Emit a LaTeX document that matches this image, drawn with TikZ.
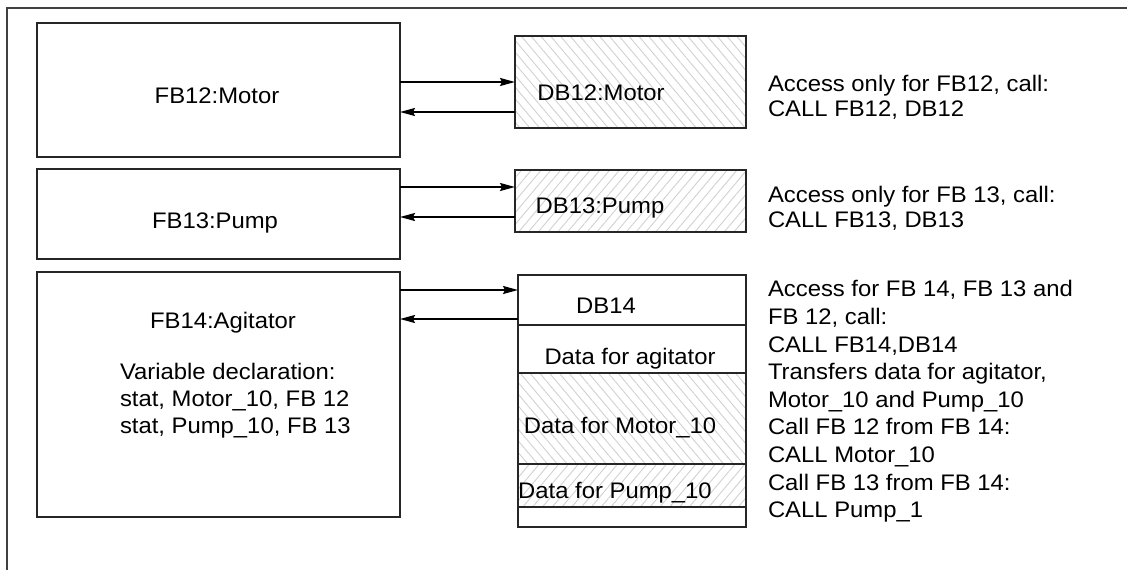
\documentclass[tikz,border=0pt]{standalone}
\usepackage{fontspec}
\setmainfont{Liberation Sans}[FakeStretch=1.06]
\usetikzlibrary{positioning,patterns.meta,arrows.meta}

\begin{document}
\begin{tikzpicture}[x=1pt, y=-1pt,
      every node/.style = {inner sep=0pt, outer sep=0pt,
        font=\fontsize{22.5}{27.6}\selectfont},
      box/.style = {draw=black!85, line width=1.3pt, rectangle},
      hatchL/.style = {box, pattern color=black!18,
        pattern={Lines[angle=-50, distance=7.5pt, line width=.9pt]}},
      hatchR/.style = {box, pattern color=black!18,
        pattern={Lines[angle=50, distance=7.5pt, line width=.9pt]}},
      call/.style = {-{Stealth[length=15pt, width=8pt, inset=2pt]}, line width=1.8pt},
      note/.style = {anchor=north west, align=left}]
    \useasboundingbox (0,0) rectangle (1127,570);
    \draw[draw=black!75, line width=1.5pt] (1127,8) -| (7,570);

    % function blocks
    \node[box, minimum width=363pt, minimum height=134pt] (fb12) at (218.5,90) {};
    \node[box, minimum width=363pt, minimum height=90pt] (fb13) at (218.5,214) {};
    \node[box, minimum width=363pt, minimum height=245pt] (fb14) at (218.5,394.5) {};
    \node[anchor=base] (fb12l) at (217,103) {FB12:Motor};
    \node[anchor=base] (fb13l) at (215,228) {FB13:Pump};
    \node[anchor=base] (fb14l) at (223,328) {FB14:Agitator};
    \node[note, font=\fontsize{22.5}{26.7}\selectfont] (vardecl) at (120,363.6)
      {Variable declaration:\\stat, Motor\_10, FB 12\\stat, Pump\_10, FB 13};

    % instance data blocks
    \node[hatchL, minimum width=231pt, minimum height=92pt] (db12) at (630.5,82) {};
    \node[hatchR, minimum width=231pt, minimum height=62pt] (db13) at (630.5,201) {};
    \node[box, minimum width=228pt, minimum height=50pt] (db14) at (632,300) {};
    \node[box, minimum width=228pt, minimum height=48pt, below=0pt of db14] (agi) {};
    \node[hatchL, minimum width=228pt, minimum height=91pt, below=0pt of agi] (mot) {};
    \node[hatchR, minimum width=228pt, minimum height=43pt, below=0pt of mot] (pmp) {};
    \node[box, minimum width=228pt, minimum height=20pt, below=0pt of pmp] (tail) {};
    \node[anchor=base] (db12l) at (601,100) {DB12:Motor};
    \node[anchor=base] (db13l) at (600,213) {DB13:Pump};
    \node[anchor=base] (db14l) at (606,313) {DB14};
    \node[anchor=base] (agil) at (630,364) {Data for agitator};
    \node[anchor=base] (motl) at (620,433) {Data for Motor\_10};
    \node[anchor=base] (pmpl) at (615,498) {Data for Pump\_10};

    % calls
    \coordinate (in12) at (db12.west);
    \coordinate (out12) at ([yshift=-30pt]db12.west);
    \coordinate (in13) at ([yshift=14pt]db13.west);
    \coordinate (out13) at ([yshift=-16pt]db13.west);
    \coordinate (in14) at ([yshift=10pt]db14.west);
    \coordinate (out14) at ([yshift=-19pt]db14.west);
    \draw[call] (in12 -| fb12.east) -- (in12);
    \draw[call] (out12) -- (out12 -| fb12.east);
    \draw[call] (in13 -| fb13.east) -- (in13);
    \draw[call] (out13) -- (out13 -| fb13.east);
    \draw[call] (in14 -| fb14.east) -- (in14);
    \draw[call] (out14) -- (out14 -| fb14.east);

    % access notes
    \node[note, font=\fontsize{22.5}{25}\selectfont] (n12) at (768,75.6)
      {Access only for FB12, call:\\CALL FB12, DB12};
    \node[note, font=\fontsize{22.5}{25}\selectfont] (n13) at (768,186.6)
      {Access only for FB 13, call:\\CALL FB13, DB13};
    \node[note] (n14) at (768,280.6)
      {Access for FB 14, FB 13 and\\FB 12, call:\\CALL FB14,DB14\\Transfers data for agitator,\\Motor\_10 and Pump\_10\\Call FB 12 from FB 14:\\CALL Motor\_10\\Call FB 13 from FB 14:\\CALL Pump\_1};
  \end{tikzpicture}
\end{document}
